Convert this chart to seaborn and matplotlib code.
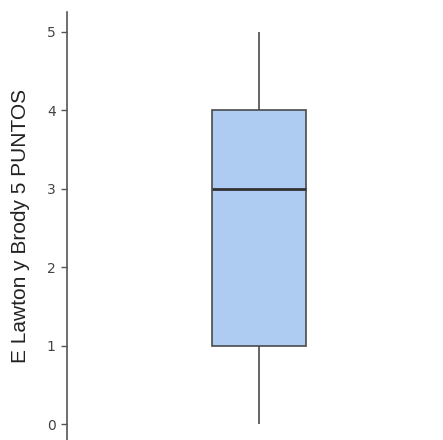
import matplotlib
matplotlib.use("Agg")
import matplotlib.pyplot as plt
import seaborn as sns
import pandas as pd

values = [0, 1, 1, 1, 2, 3, 3, 4, 4, 4, 4, 5]
ylabel = "E Lawton y Brody 5 PUNTOS"
yticks = [0, 1, 2, 3, 4, 5]

sns.set_style("white")
plt.rcParams['font.family'] = ['Liberation Sans', 'DejaVu Sans']

df = pd.DataFrame({"v": values})
fig = plt.figure(figsize=(4.43, 4.40), dpi=100)
ax = fig.add_axes([0.151, 0.0, 0.849, 0.973])
sns.boxplot(data=df, y="v", ax=ax, color="#aecbf2", saturation=1, width=0.25,
            linewidth=1.2, linecolor="#4a4a4a", showcaps=False,
            medianprops=dict(color="#333333", linewidth=2))
ax.set_xlim(-0.51, 0.49)
ax.set_ylim(-0.204, 5.255)
ax.set_yticks(yticks)
ax.set_yticklabels([str(t) for t in yticks], family="DejaVu Sans", fontsize=10,
                   color="#444444", rotation=0)
ax.set_ylabel(ylabel, fontsize=15, color="#222222", labelpad=12)
ax.set_xlabel("")
ax.set_xticks([])
for s in ["top", "right", "bottom"]:
    ax.spines[s].set_visible(False)
ax.spines["left"].set_color("#555555")
ax.spines["left"].set_linewidth(1.2)
ax.tick_params(axis="y", left=True, length=4, width=1, color="#555555", pad=4)
fig.savefig("out.png", dpi=100)
